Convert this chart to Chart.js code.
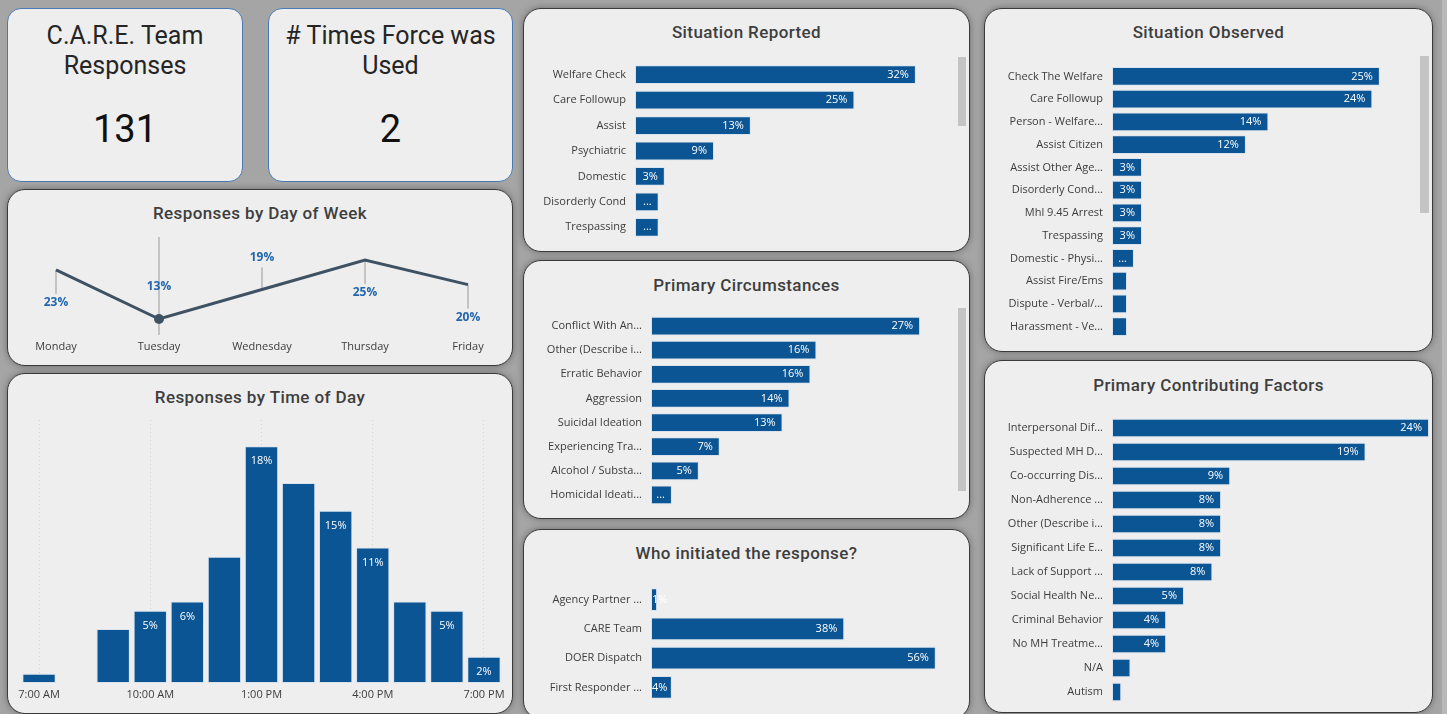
<!DOCTYPE html>
<html>
<head>
<meta charset="utf-8">
<title>C.A.R.E. Team Dashboard</title>
<script src="https://cdn.jsdelivr.net/npm/chart.js@4.4.1/dist/chart.umd.min.js"></script>
<style>
  html, body { margin: 0; padding: 0; }
  body {
    width: 1447px; height: 714px; position: relative; overflow: hidden;
    background: #a5a5a5; font-family: "Open Sans", sans-serif;
  }
  .panel {
    position: absolute; box-sizing: border-box; background: #eeeeee;
    border: 1.5px solid #3a3a3a; border-radius: 18px;
    box-shadow: 0 0 7px rgba(0, 0, 0, 0.35);
  }
  .kpi { border: 1.5px solid #4a7ab5; border-radius: 14px; box-shadow: none; }
  .title {
    position: absolute; text-align: center; font-family: Roboto, sans-serif;
    font-size: 17px; font-weight: 500; color: #3e3e3e; line-height: 20px; letter-spacing: 0.4px;
  }
  .kpi-title {
    position: absolute; text-align: center; font-family: Roboto, sans-serif;
    font-size: 25px; color: #252525; line-height: 30px;
  }
  .kpi-value {
    position: absolute; text-align: center; font-family: Roboto, sans-serif;
    font-size: 38px; font-weight: 400; color: #111; line-height: 46px;
  }
  .scroll { position: absolute; background: #c4c4c4; }
  canvas { position: absolute; }
</style>
</head>
<body>

<!-- panels -->
<div class="panel kpi" style="left:7px;top:8px;width:236px;height:174px"></div>
<div class="panel kpi" style="left:268px;top:8px;width:245px;height:174px"></div>
<div class="panel" style="left:7px;top:189px;width:506px;height:177px"></div>
<div class="panel" style="left:7px;top:373px;width:506px;height:341px"></div>
<div class="panel" style="left:523px;top:8px;width:447px;height:244px"></div>
<div class="panel" style="left:523px;top:260px;width:447px;height:259px"></div>
<div class="panel" style="left:523px;top:529px;width:447px;height:190px"></div>
<div class="panel" style="left:984px;top:8px;width:449px;height:344px"></div>
<div class="panel" style="left:984px;top:360px;width:449px;height:353px"></div>
<div style="position:absolute;left:1442px;top:0;width:5px;height:714px;background:#b8b8b8"></div>

<!-- KPI cards -->
<div class="kpi-title" style="left:7px;top:21px;width:236px">C.A.R.E. Team<br>Responses</div>
<div class="kpi-value" style="left:7px;top:106px;width:236px">131</div>
<div class="kpi-title" style="left:268px;top:21px;width:245px"># Times Force was<br>Used</div>
<div class="kpi-value" style="left:268px;top:106px;width:245px">2</div>

<!-- titles -->
<div class="title" style="left:7px;top:203px;width:506px">Responses by Day of Week</div>
<div class="title" style="left:7px;top:387px;width:506px">Responses by Time of Day</div>
<div class="title" style="left:523px;top:22px;width:447px">Situation Reported</div>
<div class="title" style="left:523px;top:275px;width:447px">Primary Circumstances</div>
<div class="title" style="left:523px;top:543px;width:447px">Who initiated the response?</div>
<div class="title" style="left:984px;top:22px;width:449px">Situation Observed</div>
<div class="title" style="left:984px;top:375px;width:449px">Primary Contributing Factors</div>

<!-- scrollbars -->
<div class="scroll" style="left:958px;top:57px;width:8px;height:69px"></div>
<div class="scroll" style="left:958px;top:308px;width:8px;height:183px"></div>
<div class="scroll" style="left:1420px;top:56px;width:9px;height:157px"></div>

<canvas id="dayChart" width="520" height="132" style="left:0;top:225px"></canvas>
<canvas id="hourChart" width="520" height="291" style="left:0;top:414px"></canvas>
<canvas id="reportedChart" width="426" height="178" style="left:525px;top:62px"></canvas>
<canvas id="circChart" width="425" height="193" style="left:525px;top:314px"></canvas>
<canvas id="whoChart" width="421" height="117" style="left:525px;top:585px"></canvas>
<canvas id="observedChart" width="426" height="273" style="left:986px;top:65px"></canvas>
<canvas id="factorChart" width="443" height="288" style="left:986px;top:416px"></canvas>

<script>
/* ---------------- data ---------------- */
const dayLabels = ['Monday', 'Tuesday', 'Wednesday', 'Thursday', 'Friday'];
const dayValues = [23, 13, 19, 25, 20];

const hourLabels = ['7:00 AM', '8:00 AM', '9:00 AM', '10:00 AM', '11:00 AM', '12:00 PM',
  '1:00 PM', '2:00 PM', '3:00 PM', '4:00 PM', '5:00 PM', '6:00 PM', '7:00 PM'];
const hourValues = [0.7, 0, 4.1, 5.5, 6.2, 9.6, 18, 15.2, 13.1, 10.3, 6.2, 5.5, 2.0];
const hourTexts = ['', '', '', '5%', '6%', '', '18%', '', '15%', '11%', '', '5%', '2%'];

const reportedLabels = ['Welfare Check', 'Care Followup', 'Assist', 'Psychiatric', 'Domestic',
  'Disorderly Cond', 'Trespassing'];
const reportedValues = [32, 25, 13.2, 9, 3.4, 2.7, 2.7];
const reportedTexts = ['32%', '25%', '13%', '9%', '3%', '...', '...'];

const circLabels = ['Conflict With An...', 'Other (Describe i...', 'Erratic Behavior', 'Aggression',
  'Suicidal Ideation', 'Experiencing Tra...', 'Alcohol / Substa...', 'Homicidal Ideati...'];
const circValues = [27, 16.6, 16, 13.9, 13.2, 6.9, 4.8, 2.1];
const circTexts = ['27%', '16%', '16%', '14%', '13%', '7%', '5%', '...'];

const whoLabels = ['Agency Partner ...', 'CARE Team', 'DOER Dispatch', 'First Responder ...'];
const whoValues = [1.2, 38, 56, 4.1];
const whoTexts = ['1%', '38%', '56%', '4%'];

const observedLabels = ['Check The Welfare', 'Care Followup', 'Person - Welfare...', 'Assist Citizen',
  'Assist Other Age...', 'Disorderly Cond...', 'Mhl 9.45 Arrest', 'Trespassing',
  'Domestic - Physi...', 'Assist Fire/Ems', 'Dispute - Verbal/...', 'Harassment - Ve...'];
const observedValues = [25, 24.3, 14.6, 12.5, 2.8, 2.8, 2.8, 2.8, 2.05, 1.4, 1.4, 1.4];
const observedTexts = ['25%', '24%', '14%', '12%', '3%', '3%', '3%', '3%', '...', '', '', ''];

const factorLabels = ['Interpersonal Dif...', 'Suspected MH D...', 'Co-occurring Dis...', 'Non-Adherence ...',
  'Other (Describe i...', 'Significant Life E...', 'Lack of Support ...', 'Social Health Ne...',
  'Criminal Behavior', 'No MH Treatme...', 'N/A', 'Autism'];
const factorValues = [24, 19.2, 8.95, 8.26, 8.26, 8.26, 7.6, 5.45, 4.1, 4.1, 1.4, 0.7];
const factorTexts = ['24%', '19%', '9%', '8%', '8%', '8%', '8%', '5%', '4%', '4%', '', ''];

/* ---------------- styling ---------------- */
const BAR_BLUE = '#0b5594';
const BAR_EDGE = 'rgba(200, 220, 240, 0.6)';
const LINE_COLOR = '#3e5264';
const LABEL_BLUE = '#2366ae';
const TICK_COLOR = '#3c3c3c';
const FONT = 'Open Sans';

// label side per point of the day-of-week line (Power BI placement)
const dayLabelSide = ['below', 'above', 'above', 'below', 'below'];
const dayHoverIndex = 1;

/**
 * White value labels inside the end of each bar
 */
function barTextPlugin(texts, vertical) {
  return {
    id: 'barText',
    afterDatasetsDraw(chart) {
      const ctx = chart.ctx;
      const meta = chart.getDatasetMeta(0);
      ctx.save();
      ctx.font = `11px "${FONT}"`;
      ctx.fillStyle = '#ffffff';
      ctx.textBaseline = 'middle';
      meta.data.forEach((bar, i) => {
        const txt = texts[i];
        if (!txt) return;
        if (vertical) {
          ctx.textAlign = 'center';
          ctx.fillText(txt, bar.x, bar.y + 15);
          return;
        }
        const w = ctx.measureText(txt).width;
        if (bar.x - bar.base > w + 12) {
          ctx.textAlign = 'right';
          ctx.fillText(txt, bar.x - 7, bar.y);
        } else {
          ctx.textAlign = 'left';
          ctx.fillText(txt, bar.base + 1, bar.y);
        }
      });
      ctx.restore();
    }
  };
}

/**
 * Horizontal bar list (category labels on the left)
 */
function renderBarList(canvasId, labels, values, texts, axisWidth, xMax, thickness) {
  const canvas = document.getElementById(canvasId);
  const ctx = canvas.getContext('2d');

  return new Chart(ctx, {
    type: 'bar',
    data: {
      labels: labels,
      datasets: [{
        data: values,
        backgroundColor: BAR_BLUE,
        borderColor: BAR_EDGE,
        borderWidth: 1,
        borderSkipped: false,
        barPercentage: thickness,
        categoryPercentage: 1
      }]
    },
    options: {
      indexAxis: 'y',
      responsive: false,
      animation: false,
      layout: { padding: 0 },
      plugins: { legend: { display: false }, tooltip: { enabled: false } },
      scales: {
        x: { display: false, min: 0, max: xMax },
        y: {
          grid: { display: false, drawTicks: false },
          border: { display: false },
          ticks: { color: TICK_COLOR, font: { family: FONT, size: 11 }, padding: 9, autoSkip: false },
          afterFit(scale) {
            // fixed label column, and no extra room above/below the rows
            scale.width = axisWidth;
            scale.paddingTop = 0;
            scale.paddingBottom = 0;
          }
        }
      }
    },
    plugins: [barTextPlugin(texts, false)]
  });
}

/**
 * Responses by Day of Week (line with leader-line labels)
 */
function renderDayChart(canvasId) {
  const ctx = document.getElementById(canvasId).getContext('2d');

  const leaderPlugin = {
    id: 'leaders',
    beforeDatasetsDraw(chart) {
      const c = chart.ctx;
      const area = chart.chartArea;
      const pts = chart.getDatasetMeta(0).data;
      c.save();
      c.strokeStyle = '#999999';
      c.lineWidth = 1;
      pts.forEach((p, i) => {
        c.beginPath();
        if (i === dayHoverIndex) {
          c.moveTo(p.x, area.top + 6);
          c.lineTo(p.x, area.bottom);
        } else if (dayLabelSide[i] === 'below') {
          c.moveTo(p.x, p.y);
          c.lineTo(p.x, p.y + 24);
        } else {
          c.moveTo(p.x, p.y);
          c.lineTo(p.x, p.y - 22);
        }
        c.stroke();
      });
      c.restore();
    },
    afterDatasetsDraw(chart) {
      const c = chart.ctx;
      const pts = chart.getDatasetMeta(0).data;
      c.save();
      c.font = `bold 12px "${FONT}"`;
      c.fillStyle = LABEL_BLUE;
      c.textAlign = 'center';
      c.textBaseline = 'middle';
      pts.forEach((p, i) => {
        const dy = dayLabelSide[i] === 'below' ? 33 : -32;
        c.fillText(`${dayValues[i]}%`, p.x, p.y + dy);
      });
      c.restore();
    }
  };

  return new Chart(ctx, {
    type: 'line',
    data: {
      labels: dayLabels,
      datasets: [{
        data: dayValues,
        borderColor: LINE_COLOR,
        borderWidth: 3,
        tension: 0,
        pointRadius: dayLabels.map((d, i) => (i === dayHoverIndex ? 5 : 0)),
        pointBackgroundColor: LINE_COLOR,
        pointBorderWidth: 0
      }]
    },
    options: {
      responsive: false,
      animation: false,
      layout: { padding: { top: 6, left: 56, right: 52, bottom: 0 } },
      plugins: { legend: { display: false }, tooltip: { enabled: false } },
      scales: {
        x: {
          offset: false,
          grid: { display: false, drawTicks: false },
          border: { display: false },
          ticks: { color: TICK_COLOR, font: { family: FONT, size: 11 }, padding: 5, maxRotation: 0 },
          afterFit(scale) { scale.height = 22; }
        },
        y: { display: false, min: 9.75, max: 30.9 }
      }
    },
    plugins: [leaderPlugin]
  });
}

/**
 * Responses by Time of Day (columns)
 */
function renderHourChart(canvasId) {
  const ctx = document.getElementById(canvasId).getContext('2d');

  return new Chart(ctx, {
    type: 'bar',
    data: {
      labels: hourLabels,
      datasets: [{
        data: hourValues,
        backgroundColor: BAR_BLUE,
        borderColor: BAR_EDGE,
        borderWidth: 1,
        borderSkipped: false,
        barPercentage: 0.9,
        categoryPercentage: 1
      }]
    },
    options: {
      responsive: false,
      animation: false,
      layout: { padding: { top: 6, left: 20.5, right: 17.5, bottom: 0 } },
      plugins: { legend: { display: false }, tooltip: { enabled: false } },
      scales: {
        x: {
          grid: {
            offset: false,
            drawTicks: false,
            color: (c) => (c.index % 3 === 0 ? '#d2d2d2' : 'rgba(0,0,0,0)')
          },
          border: { display: false, dash: [1, 3] },
          ticks: {
            autoSkip: false,
            maxRotation: 0,
            padding: 5,
            color: TICK_COLOR,
            font: { family: FONT, size: 11 },
            callback(value, index) {
              return index % 3 === 0 ? this.getLabelForValue(value) : '';
            }
          },
          afterFit(scale) { scale.height = 22; }
        },
        y: { display: false, min: 0, max: 20 }
      }
    },
    plugins: [barTextPlugin(hourTexts, true)]
  });
}

renderDayChart('dayChart');
renderHourChart('hourChart');
renderBarList('reportedChart', reportedLabels, reportedValues, reportedTexts, 110, 36, 0.74);
renderBarList('circChart', circLabels, circValues, circTexts, 126, 30, 0.78);
renderBarList('whoChart', whoLabels, whoValues, whoTexts, 126, 58, 0.78);
renderBarList('observedChart', observedLabels, observedValues, observedTexts, 126, 28, 0.82);
renderBarList('factorChart', factorLabels, factorValues, factorTexts, 126, 24, 0.78);
</script>
</body>
</html>
